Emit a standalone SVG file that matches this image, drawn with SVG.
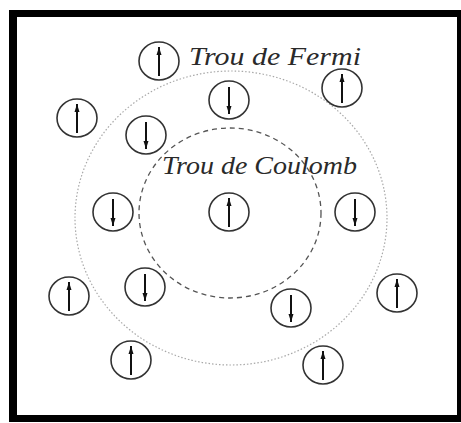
<svg xmlns="http://www.w3.org/2000/svg" width="461" height="423" viewBox="0 0 461 423">
  <style>
    .spin { fill: #ffffff; stroke: #333333; stroke-width: 1.6; }
    .arr { stroke: #111111; stroke-width: 2; fill: none; }
    .lbl { font-family: "Liberation Serif", "DejaVu Serif", serif; font-style: italic; font-size: 25px; fill: #2a2a2a; }
    .fermi { fill: none; stroke: #a8a8a8; stroke-width: 1.2; stroke-dasharray: 1.5 2; }
    .coul { fill: none; stroke: #555555; stroke-width: 1.3; stroke-dasharray: 5 4; }
  </style>
  <defs>
    <marker id="head" markerUnits="userSpaceOnUse" markerWidth="8" markerHeight="10" refX="8" refY="3" orient="auto">
      <path d="M0,0.5 L8,3 L0,5.5 Z" fill="#111111"/>
    </marker>
    <g id="up">
      <ellipse class="spin" cx="0" cy="0" rx="20" ry="19"/>
      <line class="arr" x1="0" y1="15" x2="0" y2="-14" marker-end="url(#head)"/>
    </g>
    <g id="down">
      <ellipse class="spin" cx="0" cy="0" rx="20" ry="19"/>
      <line class="arr" x1="0" y1="-13" x2="0" y2="14" marker-end="url(#head)"/>
    </g>
  </defs>
  <rect x="0" y="0" width="461" height="423" fill="#ffffff"/>
  <path d="M9,10 H461 V422 H9 Z M17,17 V415 H457 V17 Z" fill="#000000" fill-rule="evenodd"/>

  <g id="holes">
    <ellipse id="fermi-hole" class="fermi" cx="231" cy="218" rx="156" ry="147"/>
    <ellipse id="coulomb-hole" class="coul" cx="230" cy="213" rx="91" ry="85"/>
  </g>

  <g id="labels">
    <text class="lbl" x="189" y="65" textLength="172" lengthAdjust="spacingAndGlyphs">Trou de Fermi</text>
    <text class="lbl" x="162" y="174" textLength="195" lengthAdjust="spacingAndGlyphs">Trou de Coulomb</text>
  </g>

  <g id="connectors"></g>

  <g id="n1"><use href="#up" x="159" y="61"/></g>
  <g id="n2"><use href="#down" x="229" y="100"/></g>
  <g id="n3"><use href="#up" x="342" y="88"/></g>
  <g id="n4"><use href="#up" x="77" y="118"/></g>
  <g id="n5"><use href="#down" x="146" y="135"/></g>
  <g id="n6"><use href="#down" x="113" y="212"/></g>
  <g id="n7"><use href="#up" x="229" y="212"/></g>
  <g id="n8"><use href="#down" x="355" y="212"/></g>
  <g id="n9"><use href="#up" x="69" y="296"/></g>
  <g id="n10"><use href="#down" x="145" y="287"/></g>
  <g id="n11"><use href="#down" x="291" y="308"/></g>
  <g id="n12"><use href="#up" x="397" y="293"/></g>
  <g id="n13"><use href="#up" x="131" y="360"/></g>
  <g id="n14"><use href="#up" x="323" y="365"/></g>
</svg>
